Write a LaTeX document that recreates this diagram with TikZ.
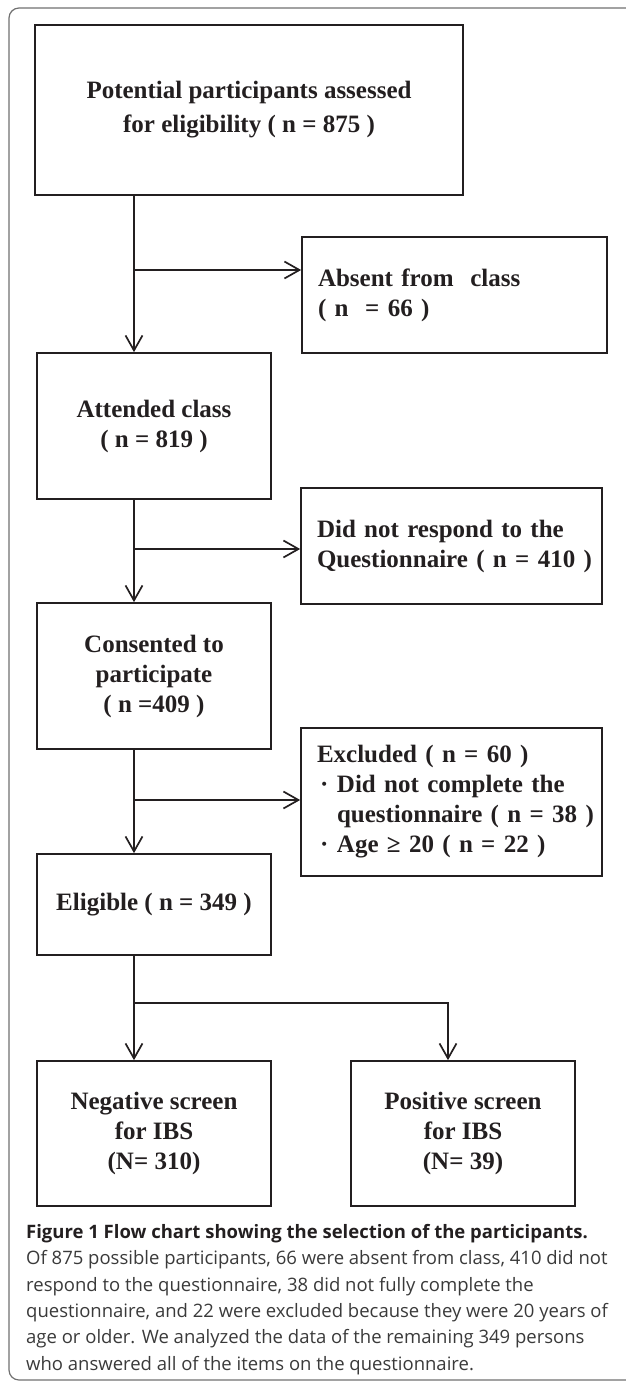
\documentclass[tikz,border=0pt]{standalone}
\usepackage{fontspec}
\setmainfont{Liberation Serif}
\newfontfamily\capfont{Open Sans}
\usetikzlibrary{arrows.meta, positioning}
\definecolor{ink}{HTML}{231F20}
\definecolor{captext}{HTML}{3A3A3A}
\definecolor{framegray}{HTML}{707070}

\begin{document}
\begin{tikzpicture}[
    x=1pt, y=1pt,
    box/.style={rectangle, draw=ink, line width=1.7pt, align=center, inner sep=0pt, text=ink, font=\fontsize{25}{30}\selectfont\bfseries},
    mainbox/.style={box, minimum width=234pt},
    sidebox/.style={box, align=left, minimum width=301pt, text width=269pt},
    arrow/.style={-{Straight Barb[length=15pt, width=17pt]}, draw=ink, line width=1.7pt}
]
\useasboundingbox (0,0) rectangle (625,-1383);

% Outer frame
\draw[framegray, line width=1.2pt, rounded corners=10pt] (9,-1380) rectangle (680,-8);

% Nodes
\node[box, minimum width=428pt, minimum height=170pt, font=\fontsize{25}{34}\selectfont\bfseries] (assessed) at (249,-110) {Potential participants assessed\\for eligibility ( n = 875 )};
\node[sidebox, minimum width=305pt, text width=273pt, minimum height=116pt] (absent) at (454.5,-295) {\mbox{Absent from~ class}\\\mbox{( n~ = 66 )}};
\node[mainbox, minimum height=146pt] (attended) at (154,-426) {Attended class\\( n = 819 )};
\node[sidebox, minimum height=116pt] (respond) at (451.5,-546) {\mbox{Did not respond to the}\\\mbox{Questionnaire ( n = 410 )}};
\node[mainbox, minimum height=146pt] (consented) at (154,-676) {Consented to\\participate\\( n =409 )};
\node[sidebox, minimum height=148pt] (excluded) at (451.5,-802) {\mbox{Excluded ( n = 60 )}\\\mbox{\makebox[20pt][l]{\hspace{3pt}·}Did not complete the}\\\mbox{\hspace*{20pt}questionnaire ( n = 38 )}\\\mbox{\makebox[20pt][l]{\hspace{3pt}·}Age ≥ 20 ( n = 22 )}};
\node[mainbox, minimum height=101pt] (eligible) at (154,-904.5) {Eligible ( n = 349 )};
\node[mainbox, minimum height=145pt] (negative) at (154,-1133.5) {Negative screen\\for IBS\\(N= 310)};
\node[box, minimum width=224pt, minimum height=145pt] (positive) at (463,-1133.5) {Positive screen\\for IBS\\(N= 39)};

% Caption
\node[anchor=north west, inner sep=0pt, align=left, text=captext, font=\capfont\fontsize{18.5}{26.4}\selectfont] (caption) at (26,-1224) {{\bfseries\color{ink}Figure 1 Flow chart showing the selection of the participants.}\\Of 875 possible participants, 66 were absent from class, 410 did not\\respond to the questionnaire, 38 did not fully complete the\\questionnaire, and 22 were excluded because they were 20 years of\\age or older. We analyzed the data of the remaining 349 persons\\who answered all of the items on the questionnaire.};

% Branch points
\coordinate (b1) at (134,-270);
\coordinate (b2) at (134,-549);
\coordinate (b3) at (134,-800);
\coordinate (b4) at (134,-1003);
\coordinate (b5) at (448,-1003);

% Arrows
\draw[arrow] (assessed.south -| b1) -- (attended.north -| b1);
\draw[arrow] (b1) -- (b1 -| absent.west);
\draw[arrow] (attended.south -| b2) -- (consented.north -| b2);
\draw[arrow] (b2) -- (b2 -| respond.west);
\draw[arrow] (consented.south -| b3) -- (eligible.north -| b3);
\draw[arrow] (b3) -- (b3 -| excluded.west);
\draw[arrow] (eligible.south -| b4) -- (negative.north -| b4);
\draw[arrow] (b4) -- (b5) -- (b5 |- positive.north);

\end{tikzpicture}
\end{document}
